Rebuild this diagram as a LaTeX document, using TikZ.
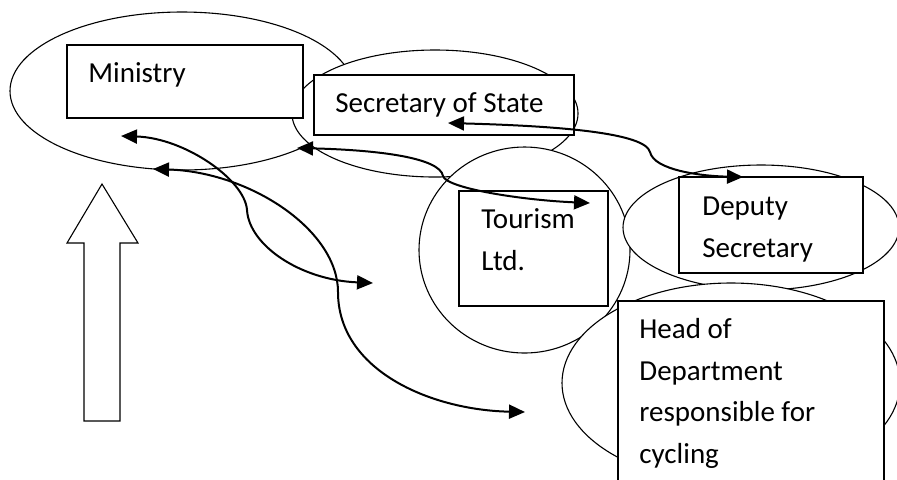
\documentclass[tikz,border=0pt]{standalone}
\usepackage{fontspec}
\setmainfont{Carlito}
\usetikzlibrary{arrows.meta,positioning}
\usetikzlibrary{shapes.geometric}

\begin{document}
\begin{tikzpicture}
		[x=0.5pt,y=-0.5pt,
		oval node/.style={shape=ellipse,draw,fill=white,line width=0.55pt,inner sep=0pt},
		box node/.style={shape=rectangle,draw,fill=white,line width=0.55pt,inner sep=0pt},
		word/.style={anchor=base west,inner sep=0pt,align=left,font=\fontsize{14.5}{20.75}\selectfont},
		link/.style={line width=1pt,{Triangle[length=8pt,width=7pt]}-{Triangle[length=8pt,width=7pt]}}]
		\useasboundingbox (0,0) rectangle (897,479);
		\clip (0,0) rectangle (897,479);
		
		\node [oval node,minimum width=172pt,minimum height=79pt] (min oval) at (182,91) {};
		\node [oval node,minimum width=143pt,minimum height=63.5pt] (sec oval) at (435,113.5) {};
		\node [box node,minimum width=118pt,minimum height=36.5pt] (min box) at (185,81.5) {};
		\node [box node,minimum width=130pt,minimum height=30pt] (sec box) at (444,105) {};
		\node [oval node,minimum width=105.5pt,minimum height=103pt] (tour oval) at (524.5,250) {};
		\node [oval node,minimum width=138pt,minimum height=62.5pt] (dep oval) at (761,227.5) {};
		\node [box node,minimum width=74.5pt,minimum height=57.5pt] (tour box) at (533.5,248.5) {};
		\node [box node,minimum width=92pt,minimum height=48pt] (dep box) at (771,225) {};
		\node [oval node,minimum width=169pt,minimum height=100pt] (head oval) at (731,383) {};
		\node [box node,minimum width=133pt,minimum height=110pt] (head box) at (751,411) {};
		
		% base anchor of a wrapped text sits on its last line
		\node [word] (min text) at (88,82) {Ministry};
		\node [word] (sec text) at (335,112) {Secretary of State};
		\node [word] (tour text) at (481,270) {Tourism\\Ltd.};
		\node [word] (dep text) at (702,257) {Deputy\\Secretary};
		\node [word] (head text) at (639,463) {Head of\\Department\\responsible for\\cycling};
		
		% hollow arrow on the left
		\draw [line width=0.55pt,fill=white] (102,184) -- (138,243) -- (120,243) -- (120,421)
			-- (84,421) -- (84,243) -- (67,243) -- cycle;
		
		\coordinate (m1) at (121,136);
		\coordinate (m2) at (153,169);
		\coordinate (s1) at (297,148);
		\coordinate (s2) at (448,123);
		\coordinate (t1) at (590,203);
		\coordinate (d1) at (743,177);
		\coordinate (x1) at (373,283);
		\coordinate (x2) at (525,412);
		
		\draw [link] (m1) .. controls (185,138) and (245,180) .. (247,210)
			.. controls (249,245) and (300,280) .. (x1);
		\draw [link] (m2) .. controls (250,172) and (338,230) .. (338,292)
			.. controls (338,370) and (430,410) .. (x2);
		\draw [link] (s1) .. controls (380,150) and (440,158) .. (443,176)
			.. controls (446,188) and (520,200) .. (t1);
		\draw [link] (s2) .. controls (560,126) and (645,133) .. (650,152)
			.. controls (654,170) and (700,176) .. (d1);
		
\end{tikzpicture}
\end{document}
